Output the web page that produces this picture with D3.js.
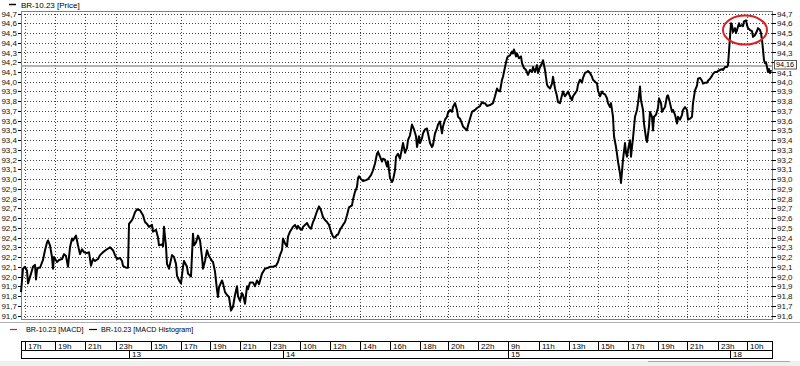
<!DOCTYPE html>
<html>
<head>
<meta charset="utf-8">
<script src="https://cdnjs.cloudflare.com/ajax/libs/d3/7.8.5/d3.min.js"></script>
<style>
  body { margin: 0; background: #fff; }
  svg { display: block; font-family: "Liberation Sans", Arial, sans-serif; font-size: 8px; }
  .grid line { stroke: #444; stroke-dasharray: 1,2; shape-rendering: crispEdges; }
  .axis path { display: none; }
  .axis line { stroke: #000; shape-rendering: crispEdges; }
  .axis text { fill: #111; font-size: 8px; font-family: "Liberation Sans", Arial, sans-serif; }
  .legend { font-size: 7.2px; }
</style>
</head>
<body>
<script>
// bar number (time position) and close price
const bars = [
  0,2,4,6,7,10,12,14,15,16,17,19,22,24,26,27,29,31,32,33,36,38,41,43,45,47,49,51,52,55,57,59,61,63,66,68,70,72,74,77,79,82,86,89,92,94,96,99,101,102,105,107,
  108,111,112,114,116,119,122,124,126,128,131,132,135,137,138,141,142,143,145,146,148,151,153,155,156,158,160,162,163,166,167,170,
  172,173,175,177,179,181,182,184,186,188,191,192,194,196,197,198,201,202,204,206,208,210,212,214,216,217,219,221,222,224,226,227,229,232,234,236,238,241,244,247,249,
  252,255,257,259,261,262,264,266,267,269,272,274,276,277,279,281,282,286,288,290,292,293,296,298,300,302,304,306,308,310,312,314,316,317,319,322,324,326,328,331,332,334,336,337,338,340,342,345,347,350,352,354,356,357,359,361,362,364,366,367,369,371,372,374,375,377,379,
  382,384,386,387,389,391,393,395,396,398,399,401,402,404,406,407,409,411,412,414,416,417,419,421,422,424,426,427,429,431,432,434,436,437,439,441,442,444,446,447,449,451,454,456,459,461,462,464,466,469,472,474,476,477,479,481,482,484,486,
  487,489,491,492,493,495,496,498,500,501,503,505,507,509,511,512,514,516,517,519,521,522,524,526,527,529,531,532,534,536,537,539,
  541,542,544,546,547,549,551,552,554,556,557,559,561,562,564,566,567,569,571,572,574,576,577,579,581,582,584,586,587,589,590,592,593,595,596,597,599,600,601,602,604,605,606,607,609,610,611,612,614,616,617,619,620,622,623,625,626,628,629,631,632,633,635,637,638,640,641,642,644,646,647,649,651,652,654,656,657,659,661,662,664,666,667,669,671,672,674,676,677,679,681,682,684,686,687,689,691,692,694,696,697,699,701,702,704,706,707,
  710,711,712,714,715,716,718,719,721,722,723,725,726,727,729,731,732,734,736,737,739,740,741,742,743,744,745,746,747,748,749,750
];
const prices = [
  91.84,92.08,92.10,92.06,91.93,92.03,92.10,92.12,91.97,92.07,92.09,92.09,92.17,92.27,92.35,92.37,92.32,92.20,92.08,92.20,92.15,92.17,92.18,92.23,92.21,92.10,92.30,92.39,92.37,92.42,92.32,92.23,92.28,92.25,92.24,92.25,92.11,92.18,92.16,92.18,92.22,92.25,92.28,92.30,92.27,92.22,92.18,92.19,92.16,92.11,92.09,92.09,
  92.54,92.58,92.60,92.66,92.69,92.68,92.63,92.56,92.54,92.51,92.53,92.46,92.48,92.40,92.32,92.33,92.31,92.51,92.31,92.13,92.08,92.22,92.20,92.13,92.01,91.96,91.93,92.10,92.16,92.10,92.03,92.00,
  92.44,92.32,92.35,92.42,92.37,92.20,92.08,92.16,92.27,92.21,92.16,92.15,92.05,91.86,91.79,91.89,91.96,91.93,91.84,91.81,91.79,91.65,91.69,91.81,91.90,91.80,91.75,91.83,91.81,91.72,91.90,91.87,91.94,91.94,91.90,91.96,91.92,92.03,92.08,92.09,92.10,
  92.10,92.11,92.15,92.22,92.27,92.39,92.34,92.31,92.41,92.46,92.51,92.53,92.49,92.52,92.49,92.48,92.51,92.55,92.51,92.49,92.56,92.58,92.67,92.72,92.68,92.61,92.58,92.56,92.53,92.46,92.41,92.40,92.43,92.43,92.48,92.53,92.56,92.63,92.71,92.73,92.79,92.87,92.92,93.01,93.03,93.00,92.98,92.99,93.00,93.04,93.09,93.16,93.26,93.28,93.23,93.18,93.21,93.20,93.13,93.18,93.01,92.97,92.99,93.09,93.23,93.26,93.21,
  93.37,93.27,93.32,93.40,93.45,93.56,93.51,93.44,93.33,93.44,93.37,93.42,93.47,93.51,93.52,93.47,93.37,93.33,93.35,93.47,93.52,93.56,93.59,93.47,93.54,93.61,93.64,93.68,93.71,93.69,93.74,93.78,93.71,93.64,93.62,93.57,93.54,93.52,93.50,93.55,93.62,93.69,93.71,93.73,93.75,93.79,93.78,93.78,93.75,93.76,93.78,93.85,93.93,93.91,93.90,94.02,94.05,94.15,94.24,
  94.26,94.27,94.31,94.29,94.33,94.26,94.29,94.24,94.26,94.19,94.14,94.12,94.07,94.12,94.10,94.15,94.10,94.17,94.09,94.15,94.19,94.22,94.12,93.97,93.95,93.93,93.98,94.05,93.93,93.85,93.79,93.78,
  93.86,93.90,93.85,93.88,93.90,93.85,93.81,93.85,93.88,93.91,93.97,94.02,93.99,94.04,94.09,94.10,94.11,94.09,94.05,94.02,94.00,93.98,93.91,93.85,93.90,93.88,93.87,93.83,93.78,93.74,93.78,93.64,93.44,93.33,93.26,93.18,93.06,92.96,93.08,93.20,93.37,93.27,93.23,93.30,93.40,93.23,93.33,93.42,93.64,93.71,93.78,93.95,93.81,93.71,93.57,93.42,93.38,93.54,93.69,93.64,93.50,93.64,93.66,93.73,93.83,93.78,93.69,93.71,93.74,93.85,93.86,93.78,93.69,93.71,93.66,93.57,93.64,93.61,93.66,93.71,93.74,93.71,93.61,93.62,93.64,93.78,93.91,93.96,94.03,94.04,94.01,93.98,93.99,93.99,94.01,94.03,94.06,94.08,94.10,94.10,94.11,94.12,94.13,94.12,94.15,94.15,94.17,
  94.60,94.58,94.51,94.55,94.50,94.53,94.60,94.57,94.58,94.57,94.62,94.63,94.58,94.55,94.53,94.52,94.46,94.48,94.52,94.55,94.53,94.50,94.43,94.33,94.22,94.19,94.20,94.15,94.10,94.13,94.09,94.12
];
const priceTicks = [91.6,91.7,91.8,91.9,92.0,92.1,92.2,92.3,92.4,92.5,92.6,92.7,92.8,92.9,93.0,93.1,93.2,93.3,93.4,93.5,93.6,93.7,93.8,93.9,94.0,94.1,94.2,94.3,94.4,94.5,94.6,94.7];
const hourTicks = [4,34,64,95,130,160,189,219,249,279,309,339,369,399,427,457,487,518,548,577,607,637,666,697,726];
const hourLabels = ["17h","19h","21h","23h","15h","17h","19h","21h","23h","10h","12h","14h","16h","18h","20h","22h","9h","11h","13h","15h","17h","19h","21h","23h","10h"];
const dayTicks = [108,262,487,709];
const dayLabels = ["13","14","15","18"];
const lastPrice = 94.16;
const highlight = { bar: 724, price: 94.53 };

const W = 800, H = 366;
const plotL = 21, plotR = 772, plotT = 11, plotB = 319;

const x = d3.scaleLinear().domain([0, 751]).range([plotL, plotR]);
const y = d3.scaleLinear().domain([91.6, 94.7]).range([315.5, 13.5]);
const fmt = v => d3.format(".1f")(v).replace(".", ",");
const fmt2 = v => d3.format(".2f")(v).replace(".", ",");

const svg = d3.select("body").append("svg").attr("width", W).attr("height", H);

// grid
const grid = svg.append("g").attr("class", "grid");
grid.selectAll("line.h").data(priceTicks).join("line").attr("class", "h")
  .attr("x1", plotL).attr("x2", plotR)
  .attr("y1", d => Math.round(y(d)) + 0.5).attr("y2", d => Math.round(y(d)) + 0.5);
grid.selectAll("line.v").data(hourTicks).join("line").attr("class", "v")
  .attr("y1", plotT).attr("y2", plotB)
  .attr("x1", d => Math.round(x(d)) + 0.5).attr("x2", d => Math.round(x(d)) + 0.5);

// frame
svg.append("rect").attr("x", plotL + 0.5).attr("y", plotT + 0.5)
  .attr("width", plotR - plotL).attr("height", plotB - plotT)
  .attr("fill", "none").attr("stroke", "#808080").attr("shape-rendering", "crispEdges");

// last price line
svg.append("line").attr("x1", plotL).attr("x2", plotR)
  .attr("y1", y(lastPrice)).attr("y2", y(lastPrice))
  .attr("stroke", "#9a9a9a").attr("stroke-width", 1.5);

// axes (right label under the last-price box is hidden, as in the terminal)
svg.append("g").attr("class", "axis").attr("transform", `translate(${plotL},0)`)
  .call(d3.axisLeft(y).tickValues(priceTicks).tickFormat(fmt).tickSize(3).tickPadding(1).tickSizeOuter(0));
const rAxis = svg.append("g").attr("class", "axis").attr("transform", `translate(${plotR},0)`)
  .call(d3.axisRight(y).tickValues(priceTicks)
    .tickFormat(v => Math.abs(v - lastPrice) < 0.05 ? "" : fmt(v))
    .tickSize(4).tickPadding(1).tickSizeOuter(0));
rAxis.selectAll(".tick text").filter(v => v < lastPrice && lastPrice - v < 0.1).attr("dy", "0.41em");

// price line
const line = d3.line().x((d, i) => x(bars[i])).y(d => y(d));
svg.append("path").datum(prices).attr("d", line)
  .attr("fill", "none").attr("stroke", "#000").attr("stroke-width", 2).attr("stroke-linejoin", "round");

// highlight ellipse
svg.append("ellipse").attr("cx", x(highlight.bar)).attr("cy", y(highlight.price))
  .attr("rx", 22).attr("ry", 14.5)
  .attr("fill", "none").attr("stroke", "#d42323").attr("stroke-width", 2);

// last price label
const ly = Math.round(y(lastPrice));
svg.append("rect").attr("x", 774.5).attr("y", ly - 5.5).attr("width", 22).attr("height", 8.5)
  .attr("fill", "#fff").attr("stroke", "#555");
svg.append("text").attr("x", 776).attr("y", ly + 0.5).style("font-size", "7.2px").text(fmt2(lastPrice));

// top legend
svg.append("line").attr("x1", 9).attr("x2", 16).attr("y1", 4.5).attr("y2", 4.5).attr("stroke", "#000").attr("stroke-width", 1.5);
svg.append("text").attr("x", 21).attr("y", 7.5).text("BR-10.23 [Price]");

// lower panel separator + legend
svg.append("line").attr("x1", 0).attr("x2", W).attr("y1", 322.5).attr("y2", 322.5).attr("stroke", "#b0b0b0");
svg.append("line").attr("x1", 10).attr("x2", 17).attr("y1", 329.5).attr("y2", 329.5).attr("stroke", "#d42323").attr("stroke-width", 1.2);
svg.append("text").attr("class", "legend").attr("x", 26).attr("y", 332).text("BR-10.23 [MACD]");
svg.append("line").attr("x1", 89).attr("x2", 97).attr("y1", 329.5).attr("y2", 329.5).attr("stroke", "#000").attr("stroke-width", 1.2);
svg.append("text").attr("class", "legend").attr("x", 101).attr("y", 332).text("BR-10.23 [MACD Histogram]");

// time axis
const tg = svg.append("g").attr("shape-rendering", "crispEdges");
tg.append("rect").attr("x", plotL + 0.5).attr("y", 341.5).attr("width", plotR - plotL).attr("height", 17)
  .attr("fill", "none").attr("stroke", "#000");
tg.append("line").attr("x1", plotL).attr("x2", plotR).attr("y1", 350.5).attr("y2", 350.5).attr("stroke", "#000");
tg.selectAll("line.hr").data(hourTicks).join("line").attr("class", "hr")
  .attr("x1", d => Math.round(x(d)) + 0.5).attr("x2", d => Math.round(x(d)) + 0.5)
  .attr("y1", 341.5).attr("y2", 350.5).attr("stroke", "#000");
tg.selectAll("text.hr").data(hourTicks).join("text").attr("class", "hr")
  .attr("x", d => x(d) + 3).attr("y", 348.5).text((d, i) => hourLabels[i]);
tg.selectAll("line.dy").data(dayTicks).join("line").attr("class", "dy")
  .attr("x1", d => Math.round(x(d)) + 0.5).attr("x2", d => Math.round(x(d)) + 0.5)
  .attr("y1", 350.5).attr("y2", 358.5).attr("stroke", "#000");
tg.selectAll("text.dy").data(dayTicks).join("text").attr("class", "dy")
  .attr("x", d => x(d) + 3).attr("y", 357).text((d, i) => dayLabels[i]);

// bottom strip
svg.append("rect").attr("x", 0).attr("y", 361).attr("width", W).attr("height", 5).attr("fill", "#efefef");
svg.append("line").attr("x1", 648).attr("x2", 790).attr("y1", 361.5).attr("y2", 361.5).attr("stroke", "#a8a8a8");
</script>
</body>
</html>
